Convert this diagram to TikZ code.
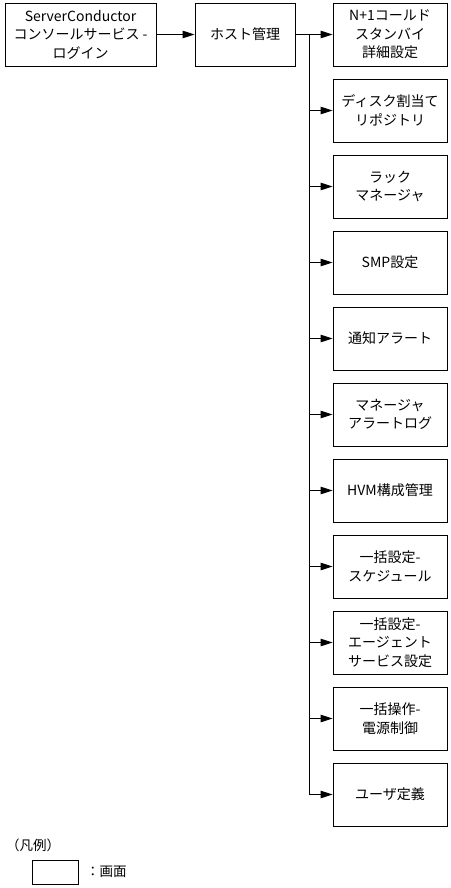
\documentclass[tikz,border=0pt]{standalone}
\usepackage{fontspec}
\setmainfont{Noto Sans CJK JP}
\usetikzlibrary{arrows.meta}
\tikzset{
  scr/.style={draw, line width=0.9pt, minimum height=63pt, align=center, inner sep=1pt,
    font=\fontsize{14pt}{18.5pt}\selectfont},
  colbox/.style={scr, minimum width=114pt},
  link/.style={line width=0.9pt, -{Triangle[length=12pt,width=7.5pt]}},
  trunk/.style={line width=0.9pt}
}
\begin{document}
\begin{tikzpicture}[x=1pt,y=-1pt]
\useasboundingbox (0,0) rectangle (450,888);
\node[scr, minimum width=151pt] (login) at (80.5,34.5) {ServerConductor\\コンソールサービス -\\ログイン};
\node[scr, minimum width=100pt] (host) at (245,34.5) {ホスト管理};
\node[colbox] (b1) at (390,34.5) {N+1コールド\\スタンバイ\\詳細設定};
\node[colbox] (b2) at (390,110.5) {ディスク割当て\\リポジトリ};
\node[colbox] (b3) at (390,186.5) {ラック\\マネージャ};
\node[colbox] (b4) at (390,262.5) {SMP設定};
\node[colbox] (b5) at (390,338.5) {通知アラート};
\node[colbox] (b6) at (390,414.5) {マネージャ\\アラートログ};
\node[colbox] (b7) at (390,490.5) {HVM構成管理};
\node[colbox] (b8) at (390,566.5) {一括設定-\\スケジュール};
\node[colbox] (b9) at (390,642.5) {一括設定-\\エージェント\\サービス設定};
\node[colbox] (b10) at (390,718.5) {一括操作-\\電源制御};
\node[colbox] (b11) at (390,794.5) {ユーザ定義};
\draw[link] (login) -- (host);
\coordinate (t0) at (309,34.5);
\coordinate (tend) at (309,794.5);
\draw[trunk] (host.east) -- (t0) -- (tend);
\foreach \i in {1,...,11}{
  \draw[link] (t0 |- b\i.west) -- (b\i.west);
}
\node[font=\fontsize{13.5pt}{16pt}\selectfont, anchor=west, inner sep=0pt] (legend) at (6,845) {（凡例）};
\node[draw, line width=0.9pt, minimum width=46pt, minimum height=24pt, inner sep=0pt] (lbox) at (55,872) {};
\node[font=\fontsize{13.5pt}{16pt}\selectfont, anchor=west, inner sep=0pt] (ltext) at (86,872) {：画面};
\end{tikzpicture}
\end{document}
